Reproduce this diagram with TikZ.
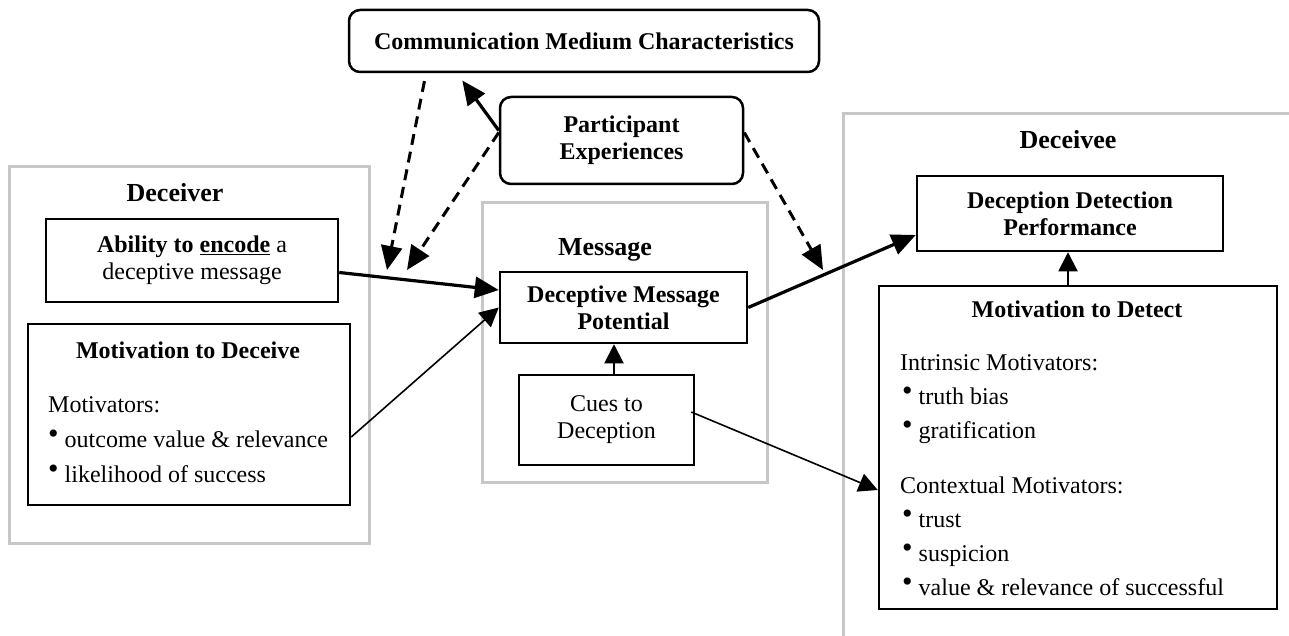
\documentclass[tikz,border=0pt]{standalone}
\usepackage{fontspec}
\setmainfont{Liberation Serif}
\usetikzlibrary{arrows.meta}
\newcommand\bul{\raisebox{3.5pt}{\scalebox{1.25}{\textbullet}}\hspace{6pt}}
\tikzset{
  body/.style={font=\fontsize{24}{27}\selectfont},
  head/.style={font=\fontsize{26}{30}\selectfont\bfseries},
  gframe/.style={draw=black!22, line width=3pt},
  bbox/.style={draw=black, line width=2.5pt, inner sep=0pt, align=center, body},
  rbox/.style={bbox, rounded corners=11pt},
  tip/.style={-{Triangle[length=24pt,width=21pt]}},
  smalltip/.style={-{Triangle[length=19pt,width=19pt]}},
  thickarr/.style={tip, line width=3.2pt},
  thinarr/.style={tip, line width=1.6pt},
  dasharr/.style={tip, line width=3pt, dash pattern=on 11pt off 7pt},
  txt/.style={anchor=base west, inner sep=0pt, body}
}
\begin{document}
\begin{tikzpicture}[x=1pt,y=-1pt]
\useasboundingbox (0,0) rectangle (1289,636);
\fill[white] (0,0) rectangle (1289,636);

% gray frames
\draw[gframe] (9,167) rectangle (369,543);
\draw[gframe] (482,203) rectangle (767,482);
\begin{scope}
\clip (0,0) rectangle (1289,636);
\draw[gframe] (1300,114) -- (843,114) -- (843,650);
\end{scope}

% titles
\node[head, anchor=base, inner sep=0pt] (tdeceiver) at (175,202) {Deceiver};
\node[head, anchor=base, inner sep=0pt] (tmessage) at (605,255) {Message};
\node[head, anchor=base, inner sep=0pt] (tdeceivee) at (1068,149) {Deceivee};

% top boxes
\node[rbox, minimum width=470pt, minimum height=62pt] (cmc) at (584,41) {\bfseries Communication Medium Characteristics};
\node[rbox, minimum width=243pt, minimum height=87pt] (pe) at (621.5,140.5) {\bfseries Participant\\\bfseries Experiences};

% deceiver
\node[bbox, minimum width=292pt, minimum height=83pt] (abil) at (192,260.5) {\textbf{Ability to \underline{encode}} a\\deceptive message};
\node[bbox, minimum width=322pt, minimum height=181pt] (mdec) at (189,414.5) {};
\node[anchor=base, inner sep=0pt, font=\fontsize{24}{27}\selectfont\bfseries] (mdect) at (188,358) {Motivation to Deceive};
\node[txt] (m1) at (48,412) {Motivators:};
\node[txt] (m2) at (48,447) {\bul outcome value \& relevance};
\node[txt] (m3) at (48,482) {\bul likelihood of success};

% message
\node[bbox, minimum width=247pt, minimum height=71pt] (dmp) at (623.5,307.5) {\bfseries Deceptive Message\\\bfseries Potential};
\node[bbox, minimum width=175pt, minimum height=90pt] (cues) at (606.5,420) {Cues to\\Deception};

% deceivee
\node[bbox, minimum width=306pt, minimum height=75pt] (ddp) at (1070,213.5) {\bfseries Deception Detection\\\bfseries Performance};
\node[bbox, minimum width=398pt, minimum height=323pt] (mdet) at (1078,447.5) {};
\node[anchor=base, inner sep=0pt, font=\fontsize{24}{27}\selectfont\bfseries] (mdett) at (1077,317) {Motivation to Detect};
\node[txt] (d1) at (900,370) {Intrinsic Motivators:};
\node[txt] (d2) at (902,404) {\bul truth bias};
\node[txt] (d3) at (902,438) {\bul gratification};
\node[txt] (d4) at (900,493) {Contextual Motivators:};
\node[txt] (d5) at (902,527) {\bul trust};
\node[txt] (d6) at (902,561) {\bul suspicion};
\node[txt] (d7) at (902,595) {\bul value \& relevance of successful};

% free ends of dashed arrows
\coordinate (e1) at (387,270);
\coordinate (e2) at (407,270);
\coordinate (e3) at (823,270);

% connectors
\draw[thickarr] ([yshift=-12pt]abil.east) -- ([yshift=17.5pt]dmp.west);
\draw[thinarr, smalltip] ([yshift=-22.5pt]mdec.east) -- (dmp.west);
\draw[smalltip, line width=2pt] ([xshift=7.5pt]cues.north) -- ([xshift=7.5pt]cues.north |- dmp.south);
\draw[thinarr, smalltip] ([xshift=-4pt,yshift=8pt]cues.east) -- ([yshift=-42.5pt]mdet.west);
\draw[thickarr] (dmp.east) -- ([yshift=-21.5pt]ddp.west);
\draw[smalltip, line width=2pt] ([xshift=-2pt]ddp.south |- mdet.north) -- ([xshift=-2pt]ddp.south);
\draw[thickarr, shorten >=9pt] ([yshift=10pt]pe.west) -- ([xshift=-127pt]cmc.south);
\draw[dasharr, shorten <=8pt] ([xshift=-158pt]cmc.south) -- (e1);
\draw[dasharr] ([yshift=8pt]pe.west) -- (e2);
\draw[dasharr] ([yshift=8pt]pe.east) -- (e3);
\end{tikzpicture}
\end{document}
